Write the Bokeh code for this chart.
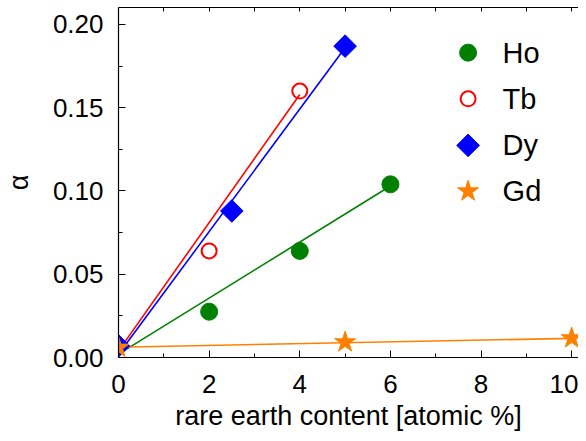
import numpy as np
from bokeh.plotting import figure
from bokeh.models import Range1d, LinearAxis, FixedTicker, NumeralTickFormatter, CustomJSTickFormatter
from bokeh.core.properties import value
from bokeh.embed import file_html
from bokeh.resources import INLINE

# data
ho_x = [2, 4, 6]
ho_y = [0.0275, 0.064, 0.104]
tb_x = [2, 4]
tb_y = [0.064, 0.160]
dy_x = [0, 2.5, 5]
dy_y = [0.007, 0.088, 0.187]
gd_x = [0, 5, 10]
gd_y = [0.006, 0.0092, 0.0116]

# fitted lines (endpoints)
ho_fit_x = [0, 6]
ho_fit_y = [0.002, 0.103]
tb_fit_x = [0, 4]
tb_fit_y = [0.004, 0.158]
dy_fit_x = [0, 5]
dy_fit_y = [0.002, 0.186]
gd_fit_x = [0, 10]
gd_fit_y = [0.0062, 0.0115]

x_major = [0, 2, 4, 6, 8, 10]
x_minor = [1, 3, 5, 7, 9]
y_major = [0.0, 0.05, 0.10, 0.15, 0.20]
y_minor = [0.025, 0.075, 0.125, 0.175]

legend_labels = ["Ho", "Tb", "Dy", "Gd"]

GREEN = "#008000"
RED = "#ff0000"
BLUE = "#0000ff"
ORANGE = "#ff8000"
FONT = "Liberation Sans"

p = figure(width=578, height=433, output_backend="svg", toolbar_location=None,
           x_range=Range1d(0, 10.15), y_range=Range1d(0, 0.2102),
           x_axis_location=None, y_axis_location=None,
           min_border_left=118, min_border_right=0, min_border_top=7, min_border_bottom=76)
p.outline_line_color = None
p.xgrid.visible = False
p.ygrid.visible = False
p.background_fill_color = "white"
p.border_fill_color = "white"

def style(ax):
    ax.axis_line_color = "black"
    ax.axis_line_width = 1.2
    ax.major_tick_line_color = "black"
    ax.minor_tick_line_color = "black"
    ax.major_tick_out = 0
    ax.minor_tick_out = 0
    ax.major_tick_in = 7
    ax.minor_tick_in = 4
    ax.major_label_text_font = FONT
    ax.axis_label_text_font = FONT
    ax.axis_label_text_font_style = "normal"
    ax.major_label_text_color = "black"
    ax.axis_label_text_color = "black"

xt = FixedTicker(ticks=x_major, minor_ticks=x_minor)
yt = FixedTicker(ticks=y_major, minor_ticks=y_minor)

xb = LinearAxis(ticker=xt, axis_label="rare earth content [atomic %]")
style(xb)
xb.major_label_text_font_size = "26px"
xb.axis_label_text_font_size = "27px"
xb.major_label_standoff = 17
xb.axis_label_standoff = 5
p.add_layout(xb, "below")

xtop = LinearAxis(ticker=xt, formatter=CustomJSTickFormatter(code="return ''"))
style(xtop)
xtop.major_label_text_font_size = "1px"
xtop.major_label_standoff = 0
xtop.major_tick_in = 4
xtop.minor_tick_in = 4
p.add_layout(xtop, "above")

yl = LinearAxis(ticker=yt, axis_label="α", formatter=NumeralTickFormatter(format="0.00"))
style(yl)
yl.major_label_text_font_size = "26px"
yl.axis_label_text_font_size = "27px"
yl.major_label_standoff = 15
yl.axis_label_standoff = 16
p.add_layout(yl, "left")

# lines
p.line(ho_fit_x, ho_fit_y, line_color=GREEN, line_width=1.6)
p.line(tb_fit_x, tb_fit_y, line_color=RED, line_width=1.6)
p.line(dy_fit_x, dy_fit_y, line_color=BLUE, line_width=1.6)
p.line(gd_fit_x, gd_fit_y, line_color=ORANGE, line_width=1.6)

# markers
p.scatter(ho_x, ho_y, marker="circle", size=17, fill_color=GREEN, line_color=GREEN)
p.scatter(tb_x, tb_y, marker="circle", size=15, fill_color=None, line_color=RED, line_width=2)
p.scatter(dy_x, dy_y, marker="square", size=16, angle=np.pi / 4, fill_color=BLUE, line_color=BLUE)
p.scatter(gd_x, gd_y, marker="star", size=22, fill_color=ORANGE, line_color=ORANGE)

# legend drawn in frame-relative (0..1) coordinates
p.extra_x_ranges = {"leg": Range1d(0, 1)}
p.extra_y_ranges = {"leg": Range1d(0, 1)}
leg_mx = 0.760
leg_tx = 0.835
leg_rows = [0.871, 0.739, 0.606, 0.475]
p.scatter([leg_mx], [leg_rows[0]], marker="circle", size=17, fill_color=GREEN, line_color=GREEN,
          x_range_name="leg", y_range_name="leg")
p.scatter([leg_mx], [leg_rows[1]], marker="circle", size=15, fill_color=None, line_color=RED, line_width=2,
          x_range_name="leg", y_range_name="leg")
p.scatter([leg_mx], [leg_rows[2]], marker="square", size=16, angle=np.pi / 4, fill_color=BLUE, line_color=BLUE,
          x_range_name="leg", y_range_name="leg")
p.scatter([leg_mx], [leg_rows[3]], marker="star", size=22, fill_color=ORANGE, line_color=ORANGE,
          x_range_name="leg", y_range_name="leg")
p.text([leg_tx] * 4, leg_rows, text=legend_labels, text_font=value(FONT), text_font_size="29px",
       text_baseline="middle", text_align="left", text_color="black",
       x_range_name="leg", y_range_name="leg")

open("out.html", "w").write(file_html(p, INLINE))
